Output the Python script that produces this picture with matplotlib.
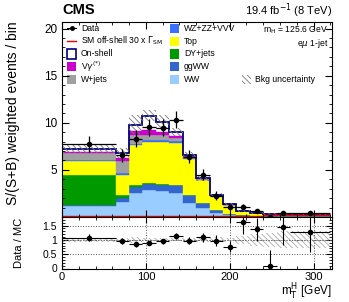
import numpy as np
import matplotlib
matplotlib.use("Agg")
import matplotlib.pyplot as plt
from matplotlib.patches import Rectangle
from matplotlib.lines import Line2D
from matplotlib.ticker import MultipleLocator

plt.rcParams["font.family"] = ["Liberation Sans", "DejaVu Sans"]
plt.rcParams["hatch.linewidth"] = 0.6

# mT bin edges (GeV)
edges = np.array([0, 64, 80, 96, 112, 128, 144, 160, 176, 192, 208, 224, 240, 256, 272, 320])

# stacked backgrounds, bottom to top (S/(S+B) weighted events / bin)
ww = [1.20, 1.60, 2.60, 2.90, 2.80, 2.55, 1.48, 0.95, 0.40, 0.20, 0.10, 0.07, 0.05, 0.05, 0.05]
ggww = [0.05, 0.40, 0.60, 0.60, 0.60, 0.80, 0.82, 0.53, 0.37, 0.15, 0.10, 0.06, 0.04, 0.04, 0.04]
dy = [3.22, 0.30, 0.15, 0.10, 0.10, 0.05, 0.02, 0.02, 0.01, 0.00, 0.00, 0.00, 0.00, 0.00, 0.00]
top = [1.43, 2.17, 4.25, 4.40, 4.50, 4.50, 3.88, 2.40, 1.42, 0.90, 0.40, 0.27, 0.17, 0.17, 0.17]
wz = [0.15, 0.18, 0.20, 0.20, 0.15, 0.20, 0.10, 0.05, 0.05, 0.04, 0.03, 0.03, 0.02, 0.02, 0.02]
wjets = [0.70, 1.25, 0.90, 0.50, 0.55, 0.30, 0.10, 0.05, 0.03, 0.03, 0.02, 0.01, 0.01, 0.01, 0.01]
vg = [0.20, 0.40, 0.40, 0.50, 0.35, 0.15, 0.05, 0.05, 0.04, 0.02, 0.01, 0.01, 0.01, 0.01, 0.01]
onshell = [0.31, 0.50, 0.70, 1.55, 1.00, 0.45, 0.10, 0.10, 0.04, 0.03, 0.01, 0.00, 0.00, 0.00, 0.00]
offshell = [0.08, 0.08, 0.08, 0.08, 0.08, 0.08, 0.08, 0.08, 0.08, 0.08, 0.10, 0.12, 0.22, 0.22, 0.22]
bkg_unc = [0.45, 0.50, 1.00, 0.60, 0.75, 0.45, 0.35, 0.30, 0.20, 0.10, 0.10, 0.09, 0.075, 0.09, 0.09]

data = [7.80, 6.55, 8.30, 9.55, 9.50, 10.30, 6.40, 4.50, 2.28, 1.05, 1.10, 0.62, 0.03, 0.43, 0.38]
data_err = [0.85, 0.70, 0.90, 0.90, 0.90, 0.90, 0.70, 0.60, 0.45, 0.27, 0.30, 0.18, 0.16, 0.18, 0.21]

stack = [
    ("WW", ww, "#99ccff"),
    ("ggWW", ggww, "#3366cc"),
    ("DY+jets", dy, "#009900"),
    ("Top", top, "#ffff00"),
    ("WZ+ZZ+VVV", wz, "#3a6eff"),
    ("W+jets", wjets, "#a0a0a0"),
    (r"V$\gamma^{(*)}$", vg, "#cc00cc"),
]
HATCH = "\\" * 6

W, H = 349, 302
fig = plt.figure(figsize=(W / 100, H / 100), dpi=100)
ax = fig.add_axes([62 / W, (H - 217) / H, 270 / W, 195 / H])
rax = fig.add_axes([62 / W, (H - 268.5) / H, 270 / W, 51.5 / H])

widths = np.diff(edges)
centers = edges[:-1] + widths / 2
bottom = np.zeros(len(widths))
for name, vals, col in stack:
    vals = np.array(vals)
    ax.bar(edges[:-1], vals, width=widths, bottom=bottom, align="edge",
           color=col, edgecolor=col, linewidth=0.3)
    bottom = bottom + vals
bkg_total = bottom.copy()
total = bkg_total + np.array(onshell)
unc = np.array(bkg_unc)

ax.stairs(total, edges, color="#000080", linewidth=1.3, baseline=None)
ax.bar(edges[:-1], 2 * unc, width=widths, bottom=total - unc, align="edge",
       fill=False, hatch=HATCH, edgecolor="#777777", linewidth=0)
ax.stairs(offshell, edges, color="#ee0000", linewidth=1.0, baseline=None)

data = np.array(data)
data_err = np.array(data_err)
ax.errorbar(centers, data, yerr=data_err, xerr=widths / 2, fmt="o", color="black",
            markersize=3, elinewidth=0.9, capsize=0)

ax.set_xlim(0, 322)
ax.set_ylim(0, 20.7)
ax.yaxis.set_major_locator(MultipleLocator(5))
ax.yaxis.set_minor_locator(MultipleLocator(1))
ax.xaxis.set_major_locator(MultipleLocator(100))
ax.xaxis.set_minor_locator(MultipleLocator(20))
ax.set_yticks([5, 10, 15, 20])
ax.tick_params(which="both", direction="in", top=True, right=True, labelsize=8.5)
ax.tick_params(which="major", length=5)
ax.tick_params(which="minor", length=2.5)
ax.tick_params(axis="x", labelbottom=False)
ax.set_ylabel("S/(S+B) weighted events / bin", fontsize=10)
ax.yaxis.set_label_coords(-0.155, 0.53)

# legend (drawn by hand in axes pixels)
def px(x, y):
    return ((x - 62) / 270, (217 - y) / 195)

fs = 6.2
left_rows = [28.3, 41.2, 54, 66.7, 79.5]
t = ax.transAxes
x0, y0 = px(67, left_rows[0])
x1, _ = px(76, left_rows[0])
ax.add_line(Line2D([x0, x1], [y0, y0], transform=t, color="black", lw=0.8))
ax.add_line(Line2D([(x0 + x1) / 2], [y0], transform=t, color="black", marker="o", ms=2.5))
ax.text(*px(81, left_rows[0]), "Data", transform=t, fontsize=fs, va="center")
x0, y0 = px(67, left_rows[1])
ax.add_line(Line2D([x0, x1], [y0, y0], transform=t, color="#ee0000", lw=1.0))
ax.text(*px(81, left_rows[1]), r"SM off-shell 30 x $\Gamma_{\rm SM}$", transform=t,
        fontsize=fs, va="center")


def box(x, y, fc, ec=None, lw=0.0, hatch=None):
    bx, by = px(x, y + 4.5)
    ax.add_patch(Rectangle((bx, by), 9 / 270, 9 / 195, transform=t, facecolor=fc,
                           edgecolor=ec if ec else fc, linewidth=lw, hatch=hatch))


box(67, left_rows[2], "white", "#000080", 1.2)
ax.text(*px(81, left_rows[2]), "On-shell", transform=t, fontsize=fs, va="center")
box(67, left_rows[3], "#cc00cc")
ax.text(*px(81, left_rows[3]), r"V$\gamma^{(*)}$", transform=t, fontsize=fs, va="center")
box(67, left_rows[4], "#a0a0a0")
ax.text(*px(81, left_rows[4]), "W+jets", transform=t, fontsize=fs, va="center")

right_names = ["WZ+ZZ+VVV", "Top", "DY+jets", "ggWW", "WW"]
right_cols = ["#3a6eff", "#ffff00", "#009900", "#3366cc", "#99ccff"]
for yy, nm, cc in zip(left_rows, right_names, right_cols):
    box(170, yy, cc)
    ax.text(*px(184, yy), nm, transform=t, fontsize=fs, va="center")
box(242, left_rows[4], "none", "#777777", 0.0, HATCH)
ax.text(*px(255, left_rows[4]), "Bkg uncertainty", transform=t, fontsize=fs, va="center")

ax.text(*px(328, 30.5), r"m$_{\rm H}$ = 125.6 GeV", transform=t, fontsize=fs,
        ha="right", va="center")
ax.text(*px(328, 43), r"e$\mu$ 1-jet", transform=t, fontsize=fs, ha="right", va="center")

fig.text(62 / W, 1 - 10.5 / H, "CMS", fontsize=10.5, fontweight="bold", ha="left", va="center")
fig.text(332 / W, 1 - 10.5 / H, r"19.4 fb$^{-1}$ (8 TeV)", fontsize=8, ha="right", va="center")

# ratio panel
ratio = data / total
ratio_err = data_err / total
rel_unc = np.array(bkg_unc) / total
rax.bar(edges[:-1], 2 * rel_unc, width=widths, bottom=1 - rel_unc, align="edge",
        fill=False, hatch=HATCH, edgecolor="#aaaaaa", linewidth=0)
rax.axhline(1, color="#777777", lw=0.8, ls=":")
rax.errorbar(centers, ratio, yerr=[np.minimum(ratio_err, ratio), ratio_err],
             xerr=widths / 2, fmt="o", color="black", markersize=3, elinewidth=0.8, capsize=0)
rax.set_xlim(0, 322)
rax.set_ylim(0, 1.8)
rax.set_yticks([0, 0.5, 1, 1.5])
rax.set_yticklabels(["0", "0.5", "1", "1.5"])
rax.yaxis.set_minor_locator(MultipleLocator(0.1))
rax.xaxis.set_major_locator(MultipleLocator(100))
rax.xaxis.set_minor_locator(MultipleLocator(20))
rax.grid(True, which="major", ls=":", color="#555555", lw=0.7)
rax.tick_params(which="both", direction="in", top=True, right=True, labelsize=8)
rax.tick_params(axis="y", labelsize=7.5)
rax.tick_params(axis="x", pad=2.5)
rax.tick_params(which="major", length=4)
rax.tick_params(which="minor", length=2)
rax.set_ylabel("Data / MC", fontsize=8)
rax.yaxis.set_label_coords(-0.14, 0.5)
fig.text(332 / W, 1 - 292 / H, r"m$_{\rm T}^{\rm H}$ [GeV]", fontsize=8.5, ha="right", va="center")

fig.savefig("out.png", dpi=100)
